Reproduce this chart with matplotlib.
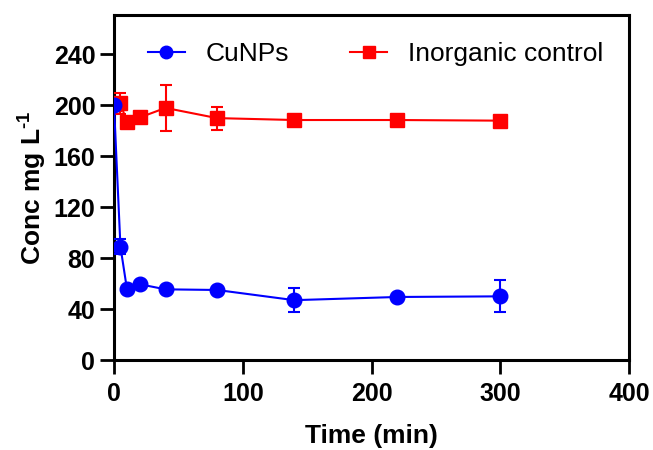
import numpy as np
import matplotlib
matplotlib.use('Agg')
import matplotlib.pyplot as plt
from matplotlib.lines import Line2D

plt.rcParams['font.family'] = ['Liberation Sans', 'DejaVu Sans']
plt.rcParams['mathtext.fontset'] = 'custom'
plt.rcParams['mathtext.rm'] = 'Liberation Sans:bold'
plt.rcParams['mathtext.bf'] = 'Liberation Sans:bold'

# Datos
time_min = [0, 5, 10, 20, 40, 80, 140, 220, 300]

cu_conc = [200, 89, 56, 59.5, 55.5, 55, 47, 49.5, 50]
cu_err = [0, 6, 0, 0, 0, 0, 9.5, 0, 12.5]

inorg_conc = [201, 201.5, 187, 190.5, 198, 190, 188.5, 188.5, 188]
inorg_err = [0, 8.5, 0, 0, 18, 9, 0, 0, 0]

series_labels = ['CuNPs', 'Inorganic control']
blue = '#0000ff'
red = '#ff0000'

fig = plt.figure(figsize=(6.53, 4.5), dpi=100)
ax = fig.add_axes([0.1746, 0.2, 0.7887, 0.7667])

# Control inorganico (rojo, cuadrados)
ax.errorbar(time_min, inorg_conc, yerr=inorg_err, color=red, marker='s',
            markersize=10, linewidth=1.5, elinewidth=1.5, capsize=4.5, capthick=1.5,
            zorder=3)
# CuNPs (azul, circulos)
ax.errorbar(time_min, cu_conc, yerr=cu_err, color=blue, marker='o',
            markersize=10.5, linewidth=1.5, elinewidth=1.5, capsize=4.5, capthick=1.5,
            zorder=4)

ax.set_xlim(0, 400)
ax.set_ylim(0, 271)
ax.set_xticks([0, 100, 200, 300, 400])
ax.set_yticks([0, 40, 80, 120, 160, 200, 240])

for s in ax.spines.values():
    s.set_linewidth(2.2)
ax.tick_params(axis='both', which='major', direction='out', length=10, width=2,
               labelsize=18)
ax.tick_params(axis='x', pad=6)
ax.tick_params(axis='y', pad=3.5)
for lbl in ax.get_xticklabels() + ax.get_yticklabels():
    lbl.set_fontweight('bold')

ax.set_xlabel('Time (min)', fontsize=19, fontweight='bold', labelpad=13)
ax.set_ylabel('Conc mg L$^{\\text{-1}}$', fontsize=19, fontweight='bold', labelpad=4)

# Leyenda solo con linea y marcador
handles = [Line2D([], [], color=blue, marker='o', markersize=9, linewidth=1.5),
           Line2D([], [], color=red, marker='s', markersize=9, linewidth=1.5)]
ax.legend(handles, series_labels, loc='center', ncol=2, frameon=False,
          fontsize=19, bbox_to_anchor=(0.508, 0.887), columnspacing=2.3,
          handlelength=1.4, handletextpad=0.8, borderaxespad=0.0)

plt.savefig('out.png', dpi=100)
